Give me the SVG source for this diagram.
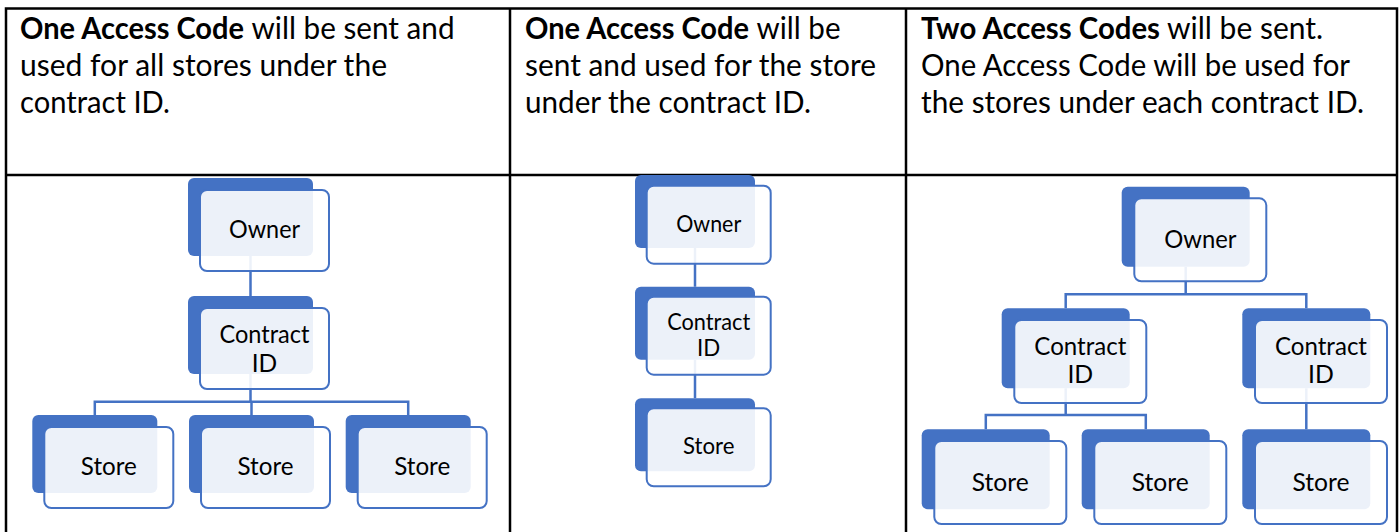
<svg xmlns="http://www.w3.org/2000/svg" width="1399" height="532" viewBox="0 0 1399 532">
<style>
.bg{fill:#ffffff}
.grid{stroke:#000;stroke-width:2.5;fill:none}
.back{fill:#4472C4}
.front{fill:#ffffff;fill-opacity:0.9;stroke:#4472C4;stroke-width:2}
.conn{stroke:#4472C4;stroke-width:2.5;fill:none}
.hd{font-family:Lato,"Liberation Sans",sans-serif;font-size:30px;fill:#000}
.b{font-weight:bold}
.lbl{font-family:Lato,"Liberation Sans",sans-serif;fill:#000;text-anchor:middle}
.s1{font-size:24.5px}
.s2{font-size:22.3px}
.s3{font-size:24.8px}
</style>
<rect class="bg" x="0" y="0" width="1399" height="532"/>
<g id="table">
<path class="grid" d="M6,8.5 H1397 M6,175 H1397 M6,7.3 V532 M510,8.5 V532 M906,8.5 V532 M1397,7.3 V532"/>
</g>
<g id="headers">
<text class="hd" y="38.5"><tspan class="b" x="20" textLength="224" lengthAdjust="spacingAndGlyphs">One Access Code</tspan><tspan x="251.5" textLength="203" lengthAdjust="spacingAndGlyphs">will be sent and</tspan></text>
<text class="hd" x="20" y="75.5" textLength="367" lengthAdjust="spacingAndGlyphs">used for all stores under the</text>
<text class="hd" x="20" y="112.5" textLength="150" lengthAdjust="spacingAndGlyphs">contract ID.</text>
<text class="hd" y="38.5"><tspan class="b" x="525" textLength="224" lengthAdjust="spacingAndGlyphs">One Access Code</tspan><tspan x="756.5" textLength="84" lengthAdjust="spacingAndGlyphs">will be</tspan></text>
<text class="hd" x="525" y="75.5" textLength="351" lengthAdjust="spacingAndGlyphs">sent and used for the store</text>
<text class="hd" x="525" y="112.5" textLength="286" lengthAdjust="spacingAndGlyphs">under the contract ID.</text>
<text class="hd" y="38.5"><tspan class="b" x="921" textLength="239" lengthAdjust="spacingAndGlyphs">Two Access Codes</tspan><tspan x="1167">will be sent.</tspan></text>
<text class="hd" x="921" y="75.5" textLength="429" lengthAdjust="spacingAndGlyphs">One Access Code will be used for</text>
<text class="hd" x="921" y="112.5" textLength="443" lengthAdjust="spacingAndGlyphs">the stores under each contract ID.</text>
</g>
<g id="connectors">
<path class="conn" d="M250.5,256 V296"/>
<path class="conn" d="M250.5,374 V401.7 M94.8,401.7 H408.2 M94.8,400.5 V415 M251.5,400.5 V415 M408.2,400.5 V415"/>
<path class="conn" d="M695,248 V286.7 M695,359.7 V398.3"/>
<path class="conn" d="M1185.7,266.7 V294.3 M1065.7,294.3 H1306.3 M1065.7,293 V308.3 M1306.3,293 V308.3"/>
<path class="conn" d="M1065.7,388.3 V415 M985.8,415 H1145.8 M985.8,413.7 V429.3 M1145.8,413.7 V429.3"/>
<path class="conn" d="M1306.3,388.3 V429.3"/>
</g>
<g id="c1-owner">
<rect class="back" x="188" y="178" width="125" height="78" rx="6"/>
<rect class="front" x="200" y="190" width="129" height="81" rx="7"/>
<text class="lbl s1" x="264.5" y="238.3" textLength="71" lengthAdjust="spacingAndGlyphs">Owner</text>
</g>
<g id="c1-contract">
<rect class="back" x="188" y="296" width="125" height="78" rx="6"/>
<rect class="front" x="200" y="308" width="129" height="81" rx="7"/>
<text class="lbl s1" x="264.5" y="342.7" textLength="90" lengthAdjust="spacingAndGlyphs">Contract</text>
<text class="lbl s1" x="264.5" y="371.7">ID</text>
</g>
<g id="c1-store1">
<rect class="back" x="32.3" y="415" width="125" height="78" rx="6"/>
<rect class="front" x="44.3" y="427" width="129" height="81" rx="7"/>
<text class="lbl s1" x="108.8" y="475" textLength="56" lengthAdjust="spacingAndGlyphs">Store</text>
</g>
<g id="c1-store2">
<rect class="back" x="189" y="415" width="125" height="78" rx="6"/>
<rect class="front" x="201" y="427" width="129" height="81" rx="7"/>
<text class="lbl s1" x="265.5" y="475" textLength="56" lengthAdjust="spacingAndGlyphs">Store</text>
</g>
<g id="c1-store3">
<rect class="back" x="345.7" y="415" width="125" height="78" rx="6"/>
<rect class="front" x="357.7" y="427" width="129" height="81" rx="7"/>
<text class="lbl s1" x="422.2" y="475" textLength="56" lengthAdjust="spacingAndGlyphs">Store</text>
</g>
<g id="c2-owner">
<rect class="back" x="635" y="175" width="120" height="73" rx="6"/>
<rect class="front" x="646.7" y="185.7" width="124" height="78" rx="7"/>
<text class="lbl s2" x="708.7" y="231.7" textLength="65" lengthAdjust="spacingAndGlyphs">Owner</text>
</g>
<g id="c2-contract">
<rect class="back" x="635" y="286.7" width="120" height="73" rx="6"/>
<rect class="front" x="646.7" y="296.7" width="124" height="78" rx="7"/>
<text class="lbl s2" x="708.7" y="330" textLength="83" lengthAdjust="spacingAndGlyphs">Contract</text>
<text class="lbl s2" x="708.7" y="356">ID</text>
</g>
<g id="c2-store">
<rect class="back" x="635" y="398.3" width="120" height="73" rx="6"/>
<rect class="front" x="646.7" y="408.3" width="124" height="78" rx="7"/>
<text class="lbl s2" x="708.7" y="454" textLength="51.4" lengthAdjust="spacingAndGlyphs">Store</text>
</g>
<g id="c3-owner">
<rect class="back" x="1121.7" y="186.7" width="128" height="80" rx="6"/>
<rect class="front" x="1134.3" y="198.3" width="132" height="83" rx="7"/>
<text class="lbl s3" x="1200.3" y="248.3" textLength="72.3" lengthAdjust="spacingAndGlyphs">Owner</text>
</g>
<g id="c3-contract1">
<rect class="back" x="1001.7" y="308.3" width="128" height="80" rx="6"/>
<rect class="front" x="1014.3" y="320" width="132" height="83" rx="7"/>
<text class="lbl s3" x="1080.3" y="355" textLength="92" lengthAdjust="spacingAndGlyphs">Contract</text>
<text class="lbl s3" x="1080.3" y="383.3">ID</text>
</g>
<g id="c3-contract2">
<rect class="back" x="1242.3" y="308.3" width="128" height="80" rx="6"/>
<rect class="front" x="1255" y="320" width="132" height="83" rx="7"/>
<text class="lbl s3" x="1321" y="355" textLength="92" lengthAdjust="spacingAndGlyphs">Contract</text>
<text class="lbl s3" x="1321" y="383.3">ID</text>
</g>
<g id="c3-store1">
<rect class="back" x="921.7" y="429.3" width="128" height="80" rx="6"/>
<rect class="front" x="934.3" y="441" width="132" height="83" rx="7"/>
<text class="lbl s3" x="1000.3" y="490.7" textLength="57" lengthAdjust="spacingAndGlyphs">Store</text>
</g>
<g id="c3-store2">
<rect class="back" x="1081.7" y="429.3" width="128" height="80" rx="6"/>
<rect class="front" x="1094.3" y="441" width="132" height="83" rx="7"/>
<text class="lbl s3" x="1160.3" y="490.7" textLength="57" lengthAdjust="spacingAndGlyphs">Store</text>
</g>
<g id="c3-store3">
<rect class="back" x="1242.3" y="429.3" width="128" height="80" rx="6"/>
<rect class="front" x="1255" y="441" width="132" height="83" rx="7"/>
<text class="lbl s3" x="1321" y="490.7" textLength="57" lengthAdjust="spacingAndGlyphs">Store</text>
</g>
</svg>
